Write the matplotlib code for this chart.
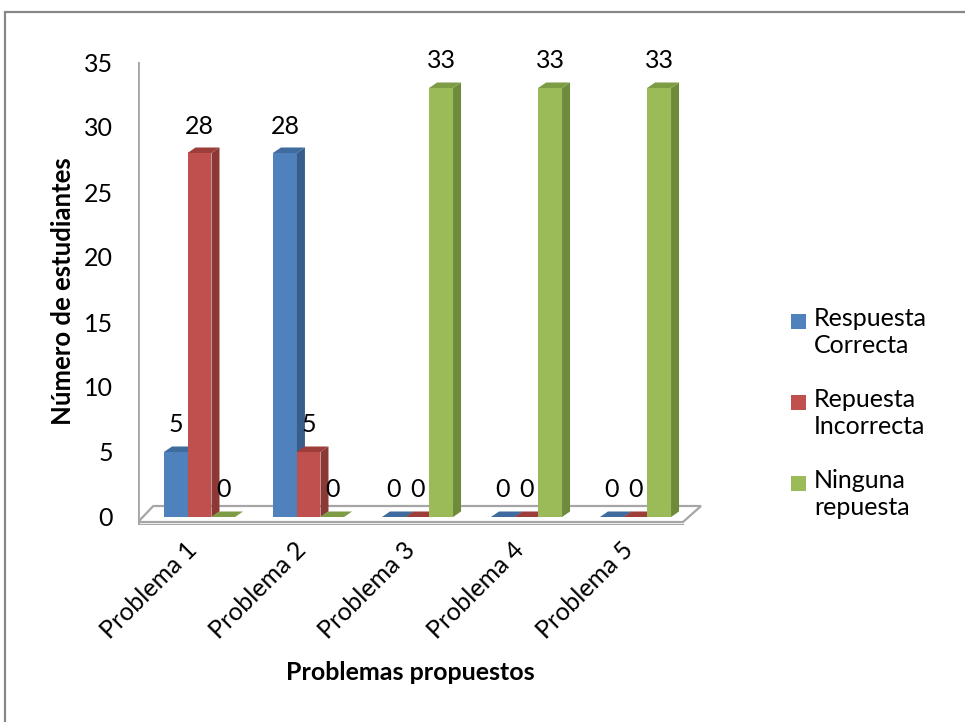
import matplotlib.pyplot as plt
from matplotlib.patches import Polygon, Rectangle
from matplotlib.transforms import ScaledTranslation

plt.rcParams['font.family'] = ['Lato', 'DejaVu Sans']

problemas = ['Problema 1', 'Problema 2', 'Problema 3', 'Problema 4', 'Problema 5']
series = ['Respuesta\nCorrecta', 'Repuesta\nIncorrecta', 'Ninguna\nrepuesta']
correcta = [5, 28, 0, 0, 0]
incorrecta = [28, 5, 0, 0, 0]
ninguna = [0, 0, 33, 33, 33]
valores = [correcta, incorrecta, ninguna]

# front, side, top colours (Excel 2007 style)
colores = [('#4F81BD', '#385D8A', '#3F6B9E'),
           ('#C0504D', '#8C3835', '#9E3E3B'),
           ('#9BBB59', '#6E8A3B', '#7E9C44')]

W, H = 965, 722
fig = plt.figure(figsize=(W / 100, H / 100), dpi=100)

# outer chart border (runs off the right/bottom of the picture)
fig.patches.append(Rectangle((5 / W, -0.1), 1.2, (H - 12) / H + 0.1,
                             transform=fig.transFigure, fill=False,
                             edgecolor='#878787', lw=1.6))

# axes placed in pixels: 109 px per category, 13 px per unit
px_x, px_y = 109.0, 13.0
x0_px, y0_px = 199.5, 517.0
left_px, right_px = 138, 712
ymin, ymax = -0.6, 35
top_px = y0_px - ymax * px_y
bot_px = y0_px - ymin * px_y
ax = fig.add_axes([left_px / W, (H - bot_px) / H,
                   (right_px - left_px) / W, (bot_px - top_px) / H])
ax.set_xlim((left_px - x0_px) / px_x, (right_px - x0_px) / px_x)
ax.set_ylim(ymin, ymax)
for s in ax.spines.values():
    s.set_visible(False)

DX = 8 / px_x
DY = 5.5 / px_y
ancho = 0.22
paso = 0.216

# floor plate
fl = (138 - x0_px) / px_x
fr = (683 - x0_px) / px_x
fdx = 18 / px_x
fy = -5 / px_y
fdy = 16 / px_y
suelo = [(fl, fy), (fr, fy), (fr + fdx, fy + fdy), (fl + fdx * 0.85, fy + fdy)]
ax.add_patch(Polygon(suelo, closed=True, facecolor='white', edgecolor='#A6A6A6',
                     lw=1.6, zorder=1))
ax.plot([fl, fr], [fy - 2.5 / px_y] * 2, color='#A6A6A6', lw=1.6, zorder=1)
# vertical value axis line
ax.plot([fl, fl], [fy - 2.5 / px_y, ymax + 0.1], color='#A6A6A6', lw=2, zorder=1)

xs = list(range(len(problemas)))
for i, vals in enumerate(valores):
    front, side, top = colores[i]
    pos = [x + (i - 1) * paso for x in xs]
    ax.bar(pos, vals, width=ancho, color=front, zorder=3 + i, linewidth=0)
    for p, v in zip(pos, vals):
        xl, xr = p - ancho / 2, p + ancho / 2
        ax.add_patch(Polygon([(xr, 0), (xr + DX, DY), (xr + DX, v + DY), (xr, v)],
                             closed=True, facecolor=side, lw=0, zorder=3 + i))
        ax.add_patch(Polygon([(xl, v), (xl + DX, v + DY), (xr + DX, v + DY), (xr, v)],
                             closed=True, facecolor=top, lw=0, zorder=3 + i))
        ax.annotate(str(v), (p, v), xytext=(0, 27), textcoords='offset pixels',
                    ha='center', va='center', fontsize=18, zorder=10)

ax.set_yticks(range(0, 36, 5))
ax.tick_params(axis='y', length=0, pad=18, labelsize=18)
ax.set_xticks(xs)
ax.set_xticklabels(problemas, rotation=45, ha='right', va='center',
                   rotation_mode='anchor', fontsize=18)
ax.tick_params(axis='x', length=0, pad=15)
shift = ScaledTranslation(-6 / 100, 0, fig.dpi_scale_trans)
for lab in ax.get_xticklabels():
    lab.set_transform(lab.get_transform() + shift)

fig.text(63 / W, 1 - 291 / H, 'Número de estudiantes', rotation=90,
         ha='center', va='center', fontsize=18.5, fontweight='bold')
fig.text(410 / W, 1 - 673 / H, 'Problemas propuestos',
         ha='center', va='center', fontsize=18, fontweight='bold')

# legend drawn by hand so the swatch lines up with the first text line
for k, nombre in enumerate(series):
    yc = 321 + k * 81
    fig.patches.append(Rectangle((791 / W, 1 - (yc + 7.5) / H), 15 / W, 15 / H,
                                 transform=fig.transFigure,
                                 facecolor=colores[k][0], lw=0))
    fig.text(814 / W, 1 - (yc - 14) / H, nombre, ha='left', va='top',
             fontsize=18, linespacing=1.2)

fig.savefig('out.png', dpi=100)
